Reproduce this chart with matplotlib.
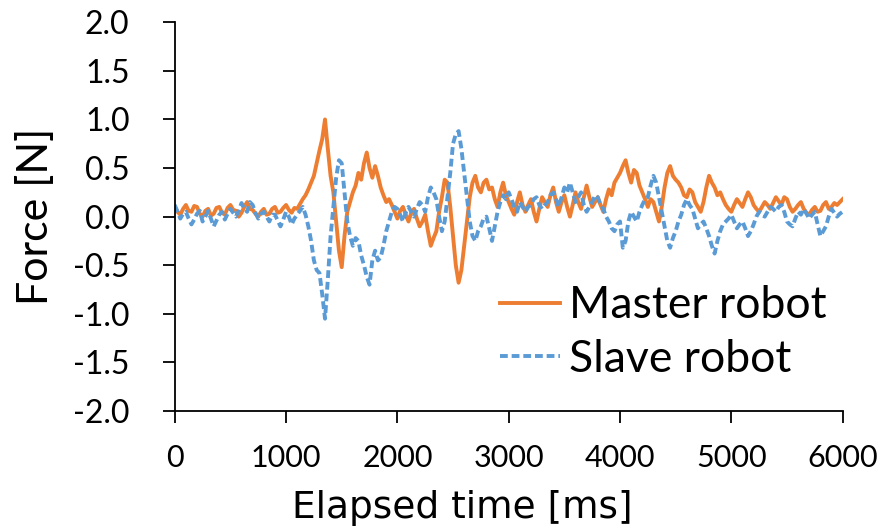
import numpy as np
import matplotlib
matplotlib.use('Agg')
import matplotlib.pyplot as plt

# sample spacing of the logged force data [ms]
step_ms = 25

# master robot force [N], one row per second
master = [
    0.10, 0.05, 0.02, 0.08, 0.12, 0.06, 0.05, 0.11, 0.10, 0.03, 0.00, 0.06, 0.08, 0.01,
    0.03, 0.09, 0.10, 0.04, 0.02, 0.09, 0.12, 0.07, 0.06, 0.00, 0.04, 0.10, 0.15, 0.08,
    0.07, 0.03, 0.00, 0.05, 0.08, 0.02, 0.03, 0.08, 0.10, 0.04, 0.05, 0.09,
    0.12, 0.07, 0.04, 0.09, 0.08, 0.13, 0.18, 0.22, 0.28, 0.35, 0.42, 0.55, 0.68, 0.80,
    1.00, 0.70, 0.42, 0.25, -0.05, -0.35, -0.52, -0.20, 0.05, 0.15, 0.25, 0.32, 0.45, 0.38,
    0.55, 0.66, 0.50, 0.40, 0.52, 0.42, 0.30, 0.22, 0.15, 0.18, 0.12, 0.05,
    -0.02, 0.06, 0.10, 0.02, -0.05, 0.04, 0.08, -0.02, -0.10, -0.05, 0.02, -0.15, -0.30, -0.22,
    -0.15, 0.05, 0.20, 0.38, 0.35, 0.10, -0.20, -0.50, -0.68, -0.55, -0.30, -0.05, 0.20, 0.35,
    0.42, 0.30, 0.25, 0.35, 0.38, 0.28, 0.30, 0.18, 0.10, 0.25, 0.35, 0.22,
    0.15, 0.08, 0.02, 0.15, 0.25, 0.12, 0.05, 0.12, 0.18, 0.05, -0.05, 0.08, 0.20, 0.15,
    0.10, 0.22, 0.30, 0.15, 0.05, 0.15, 0.22, 0.10, 0.00, 0.12, 0.25, 0.15, 0.08, 0.20,
    0.32, 0.20, 0.10, 0.15, 0.20, 0.12, 0.05, 0.18, 0.28, 0.22, 0.35, 0.40,
    0.45, 0.52, 0.58, 0.45, 0.35, 0.48, 0.45, 0.32, 0.25, 0.18, 0.10, 0.18, 0.15, 0.05,
    -0.05, 0.10, 0.30, 0.45, 0.52, 0.42, 0.38, 0.35, 0.30, 0.22, 0.20, 0.28, 0.25, 0.15,
    0.10, 0.05, 0.15, 0.30, 0.42, 0.35, 0.30, 0.22, 0.25, 0.18, 0.12, 0.08,
    0.05, 0.12, 0.18, 0.14, 0.10, 0.18, 0.25, 0.20, 0.12, 0.08, 0.05, 0.10, 0.15, 0.12,
    0.08, 0.14, 0.20, 0.16, 0.12, 0.20, 0.18, 0.10, 0.05, 0.08, 0.12, 0.15, 0.08, 0.04,
    0.02, 0.07, 0.10, 0.05, 0.06, 0.12, 0.15, 0.08, 0.10, 0.14, 0.12, 0.15,
    0.18]

# slave robot force [N], one row per second
slave = [
    0.12, 0.05, -0.02, 0.03, 0.05, -0.02, -0.08, -0.03, 0.03, 0.06, -0.05, 0.00, 0.06, -0.02,
    -0.10, -0.04, 0.02, 0.05, -0.03, 0.03, 0.08, 0.04, 0.00, 0.06, 0.14, 0.08, 0.05, 0.15,
    0.12, 0.04, -0.02, 0.03, 0.05, 0.00, -0.05, 0.02, 0.02, -0.04, -0.10, -0.03,
    0.05, 0.00, -0.08, -0.02, 0.02, 0.06, 0.10, 0.02, -0.10, -0.25, -0.45, -0.55, -0.58, -0.80,
    -1.05, -0.65, -0.20, 0.10, 0.40, 0.58, 0.55, 0.25, -0.05, -0.20, -0.30, -0.22, -0.25, -0.40,
    -0.50, -0.62, -0.70, -0.45, -0.35, -0.45, -0.42, -0.30, -0.15, -0.05, 0.05, 0.10,
    0.08, 0.02, -0.05, 0.04, 0.10, 0.05, 0.00, 0.08, 0.15, 0.12, 0.05, 0.20, 0.30, 0.25,
    0.18, 0.00, -0.15, -0.05, 0.20, 0.45, 0.75, 0.85, 0.88, 0.70, 0.45, 0.20, -0.05, -0.20,
    -0.25, -0.15, -0.10, -0.02, 0.00, -0.12, -0.25, -0.10, 0.05, 0.15, 0.22, 0.18,
    0.25, 0.18, 0.10, 0.05, 0.15, 0.10, 0.05, 0.10, 0.12, 0.18, 0.20, 0.12, 0.08, 0.12,
    0.15, 0.22, 0.25, 0.18, 0.10, 0.20, 0.30, 0.25, 0.35, 0.25, 0.15, 0.20, 0.25, 0.12,
    0.05, 0.10, 0.15, 0.22, 0.20, 0.12, 0.08, 0.00, -0.05, -0.12, -0.15, -0.08,
    -0.05, -0.32, -0.25, -0.05, 0.05, 0.00, -0.05, 0.05, 0.12, 0.18, 0.20, 0.32, 0.42, 0.35,
    0.20, 0.05, -0.10, -0.25, -0.32, -0.22, -0.15, -0.05, 0.02, 0.12, 0.18, 0.12, 0.08, -0.02,
    -0.12, -0.08, -0.05, -0.12, -0.20, -0.30, -0.38, -0.25, -0.15, -0.08, -0.05, -0.02,
    0.02, -0.05, -0.12, -0.08, -0.05, -0.12, -0.20, -0.15, -0.08, 0.00, 0.05, 0.02, 0.00, 0.05,
    0.10, 0.08, 0.05, 0.10, 0.12, 0.05, -0.05, -0.08, -0.10, -0.02, 0.05, 0.02, 0.08, 0.03,
    -0.02, 0.02, 0.05, -0.08, -0.20, -0.15, -0.10, 0.00, 0.08, 0.04, 0.00, 0.03,
    0.05]

t = np.arange(len(master)) * step_ms
yt = np.arange(-2.0, 2.01, 0.5)

fig = plt.figure(figsize=(8.87, 5.30), dpi=100)
ax = fig.add_axes([0.197, 0.2245, 0.753, 0.7335])

ax.plot(t, master, color='#ED7D31', lw=2.8, label='Master robot')
ax.plot(t, slave, color='#5B9BD5', lw=2.8, ls=(0, (2.0, 1.0)), label='Slave robot')

ax.set_xlim(0, 6000)
ax.set_ylim(-2.0, 2.0)
ax.set_xticks(np.arange(0, 6001, 1000))
ax.set_yticks(yt)
ax.set_yticklabels(['%.1f' % v for v in yt], fontfamily='Lato', fontsize=23)
ax.set_xticklabels([str(v) for v in range(0, 6001, 1000)], fontfamily='Lato', fontsize=22)

for s in ['top', 'right']:
    ax.spines[s].set_visible(False)
for s in ['left', 'bottom']:
    ax.spines[s].set_linewidth(1.3)
ax.tick_params(axis='both', length=8.5, width=1.3, direction='out')
ax.tick_params(axis='y', pad=24)
ax.tick_params(axis='x', pad=15)

ax.set_xlabel('Elapsed time [ms]', fontfamily='DejaVu Sans', fontsize=27)
ax.xaxis.set_label_coords(0.431, -0.203)
ax.set_ylabel('Force [N]', fontfamily='Lato', fontsize=31)
ax.yaxis.set_label_coords(-0.18, 0.5)

ax.legend(loc='upper left', bbox_to_anchor=(0.4865, 0.323), frameon=False,
          prop={'family': 'Lato', 'size': 32}, handlelength=1.36,
          handletextpad=0.2, labelspacing=0.28, borderpad=0, borderaxespad=0)

plt.savefig('out.png', dpi=100)
